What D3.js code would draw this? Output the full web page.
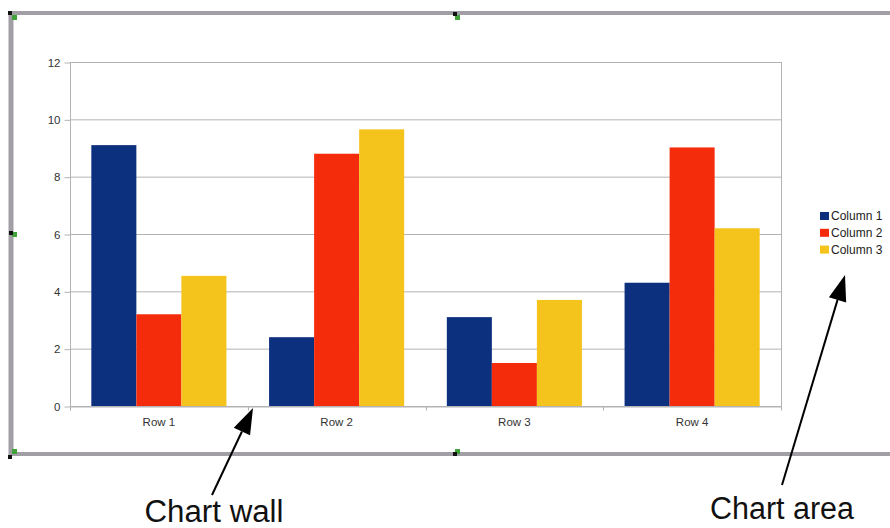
<!DOCTYPE html>
<html>
<head>
<meta charset="utf-8">
<script src="https://cdn.jsdelivr.net/npm/d3@7"></script>
<style>
  body { margin: 0; background: #fff; }
  text { font-family: "Liberation Sans", Arial, sans-serif; }
</style>
</head>
<body>
<div id="chart"></div>
<script>
// Chart data (LibreOffice default table)
const categories = ["Row 1", "Row 2", "Row 3", "Row 4"];
const series = ["Column 1", "Column 2", "Column 3"];
const column1 = [9.1, 2.4, 3.1, 4.3];
const column2 = [3.2, 8.8, 1.5, 9.02];
const column3 = [4.54, 9.65, 3.7, 6.2];
const yTicks = [0, 2, 4, 6, 8, 10, 12];

const colors = ["#0c2f7e", "#f42c0c", "#f4c31c"];
const values = [column1, column2, column3];

const W = 890, H = 528;
const plot = { left: 70, right: 781, top: 62, bottom: 406 };

const svg = d3.select("#chart").append("svg")
  .attr("width", W)
  .attr("height", H);

svg.append("rect").attr("width", W).attr("height", H).attr("fill", "#fff");

// Scales
const x0 = d3.scaleBand()
  .domain(categories)
  .range([plot.left, plot.right])
  .paddingInner(0.24)
  .paddingOuter(0.12);

const x1 = d3.scaleBand()
  .domain(series)
  .range([0, x0.bandwidth()]);

const y = d3.scaleLinear()
  .domain([0, 12])
  .range([plot.bottom, plot.top]);

// Grid lines
svg.append("g")
  .selectAll("line")
  .data(yTicks)
  .enter()
  .append("line")
  .attr("x1", plot.left)
  .attr("x2", plot.right)
  .attr("y1", (d) => y(d) + 0.5)
  .attr("y2", (d) => y(d) + 0.5)
  .attr("stroke", "#b3b3b3")
  .attr("stroke-width", 1);

// Right edge of the wall
svg.append("line")
  .attr("x1", plot.right + 0.5)
  .attr("x2", plot.right + 0.5)
  .attr("y1", plot.top)
  .attr("y2", plot.bottom + 4)
  .attr("stroke", "#b3b3b3");

// Bars
const rows = categories.map((c, i) => ({
  cat: c,
  vals: series.map((s, j) => ({ s: s, v: values[j][i], color: colors[j] })),
}));

svg.append("g")
  .selectAll("g")
  .data(rows)
  .enter()
  .append("g")
  .attr("transform", (d) => `translate(${x0(d.cat)},0)`)
  .selectAll("rect")
  .data((d) => d.vals)
  .enter()
  .append("rect")
  .attr("x", (d) => x1(d.s))
  .attr("width", x1.bandwidth())
  .attr("y", (d) => y(d.v))
  .attr("height", (d) => y(0) - y(d.v))
  .attr("fill", (d) => d.color);

// Y axis
const yAxis = svg.append("g")
  .attr("transform", `translate(${plot.left + 0.5},0.5)`)
  .call(d3.axisLeft(y).tickValues(yTicks).tickSize(6).tickPadding(4).tickSizeOuter(0));
yAxis.select(".domain").attr("stroke", "#b3b3b3").attr("d", `M0,${plot.top}V${plot.bottom + 4}`);
yAxis.selectAll(".tick line").attr("stroke", "#b3b3b3");
yAxis.selectAll(".tick text")
  .attr("fill", "#333")
  .style("font-size", "11.5px")
  .style("font-family", "Liberation Sans, Arial, sans-serif");

// X axis
const xAxis = svg.append("g")
  .attr("transform", `translate(0,${plot.bottom + 0.5})`)
  .call(d3.axisBottom(x0).tickSize(0).tickPadding(11));
xAxis.select(".domain").attr("stroke", "#b3b3b3");
xAxis.selectAll(".tick text")
  .attr("fill", "#333")
  .style("font-size", "11.5px")
  .style("font-family", "Liberation Sans, Arial, sans-serif");

// Category separator ticks
const edges = categories.map((c) => x0(c) - x0.step() * x0.paddingOuter()).concat([plot.right]);
xAxis.selectAll(".sep")
  .data(edges)
  .enter()
  .append("line")
  .attr("x1", (d) => Math.round(d) + 0.5)
  .attr("x2", (d) => Math.round(d) + 0.5)
  .attr("y1", 0)
  .attr("y2", 4)
  .attr("stroke", "#b3b3b3");

// Legend
const legend = svg.append("g").attr("transform", "translate(820,212)");
series.forEach((s, i) => {
  const g = legend.append("g").attr("transform", `translate(0,${i * 16.8})`);
  g.append("rect").attr("width", 9).attr("height", 8).attr("fill", colors[i]);
  g.append("text")
    .attr("x", 11)
    .attr("y", 4)
    .attr("dy", "0.35em")
    .attr("fill", "#222")
    .style("font-size", "12px")
    .text(s);
});

// Selection frame around the chart area
const frameColor = "#a19ea6";
svg.append("line").attr("x1", 9).attr("x2", W).attr("y1", 13).attr("y2", 13)
  .attr("stroke", frameColor).attr("stroke-width", 4);
svg.append("line").attr("x1", 11).attr("x2", 11).attr("y1", 11).attr("y2", 456)
  .attr("stroke", frameColor).attr("stroke-width", 5);
svg.append("line").attr("x1", 9).attr("x2", W).attr("y1", 454).attr("y2", 454)
  .attr("stroke", frameColor).attr("stroke-width", 4);

// Handles
const handles = [
  { bx: 8, by: 11, gx: 12, gy: 15 },
  { bx: 453, by: 12, gx: 455, gy: 15 },
  { bx: 9, by: 231, gx: 12, gy: 232 },
  { bx: 8, by: 455, gx: 12, gy: 449 },
  { bx: 453, by: 452, gx: 455, gy: 449 },
];
handles.forEach((h) => {
  svg.append("rect").attr("x", h.gx).attr("y", h.gy).attr("width", 5).attr("height", 5).attr("fill", "#3fa33a");
  svg.append("rect").attr("x", h.bx).attr("y", h.by).attr("width", 4).attr("height", 4).attr("fill", "#111");
});

// Annotation arrows
function arrow(x1, y1, x2, y2) {
  const ang = Math.atan2(y2 - y1, x2 - x1);
  const len = 26, half = 9;
  const bx = x2 - len * Math.cos(ang), by = y2 - len * Math.sin(ang);
  const px = -Math.sin(ang), py = Math.cos(ang);
  svg.append("line")
    .attr("x1", x1).attr("y1", y1).attr("x2", bx).attr("y2", by)
    .attr("stroke", "#000").attr("stroke-width", 2);
  svg.append("path")
    .attr("d", `M${x2},${y2}L${bx + px * half},${by + py * half}L${bx - px * half},${by - py * half}Z`)
    .attr("fill", "#000");
}
arrow(212, 495, 253, 408);
arrow(782, 485, 845, 275);

svg.append("text").attr("x", 214).attr("y", 522).attr("text-anchor", "middle")
  .attr("fill", "#111").style("font-size", "31px")
  .attr("textLength", 139).attr("lengthAdjust", "spacingAndGlyphs").text("Chart wall");
svg.append("text").attr("x", 782).attr("y", 519).attr("text-anchor", "middle")
  .attr("fill", "#111").style("font-size", "31px")
  .attr("textLength", 144).attr("lengthAdjust", "spacingAndGlyphs").text("Chart area");
</script>
</body>
</html>
